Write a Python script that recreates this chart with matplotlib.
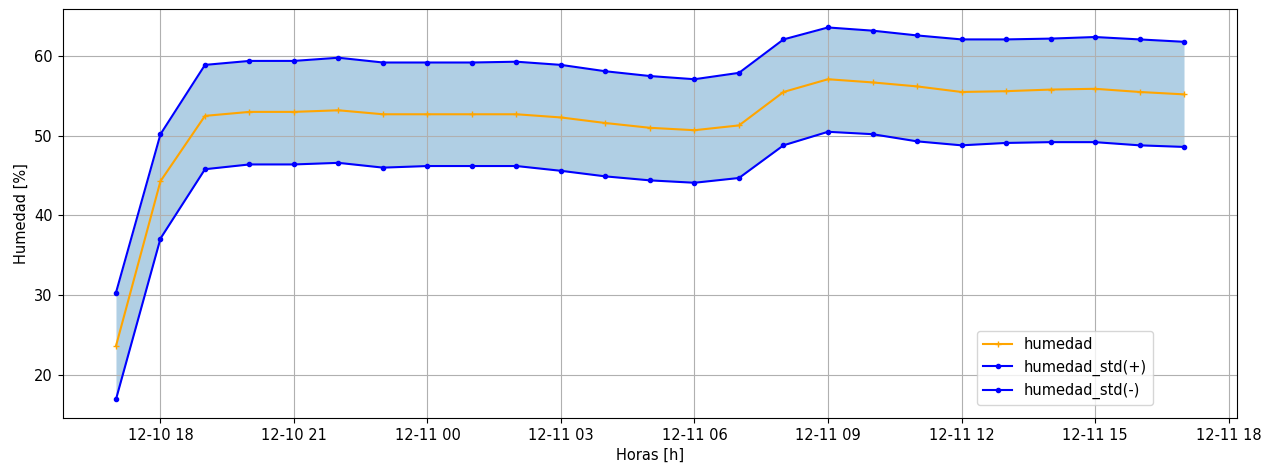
import numpy as np
import pandas as pd
import matplotlib
matplotlib.use("Agg")
import matplotlib.pyplot as plt
import matplotlib.dates as mdates

# hourly readings, 12-10 17:00 to 12-11 17:00
horas = pd.date_range("2021-12-10 17:00", periods=25, freq="h")

humedad = [23.6, 44.3, 52.5, 53.0, 53.0, 53.2, 52.7, 52.7, 52.7, 52.7,
           52.3, 51.6, 51.0, 50.7, 51.3, 55.5, 57.1, 56.7, 56.2, 55.5,
           55.6, 55.8, 55.9, 55.5, 55.2]
humedad_std_mas = [30.3, 50.2, 58.9, 59.4, 59.4, 59.8, 59.2, 59.2, 59.2, 59.3,
                   58.9, 58.1, 57.5, 57.1, 57.9, 62.1, 63.6, 63.2, 62.6, 62.1,
                   62.1, 62.2, 62.4, 62.1, 61.8]
humedad_std_menos = [16.9, 37.1, 45.8, 46.4, 46.4, 46.6, 46.0, 46.2, 46.2, 46.2,
                     45.6, 44.9, 44.4, 44.1, 44.7, 48.8, 50.5, 50.2, 49.3, 48.8,
                     49.1, 49.2, 49.2, 48.8, 48.6]

plt.rcParams["font.size"] = 10.5

fig, ax = plt.subplots(figsize=(12.77, 4.67), dpi=100)
fig.subplots_adjust(left=0.049, right=0.969, top=0.981, bottom=0.105)

ax.plot(horas, humedad, color="orange", marker="+", markersize=4, label="humedad")
ax.plot(horas, humedad_std_mas, color="blue", marker=".", markersize=6, label="humedad_std(+)")
ax.plot(horas, humedad_std_menos, color="blue", marker=".", markersize=6, label="humedad_std(-)")
ax.fill_between(horas, humedad_std_menos, humedad_std_mas, color="tab:blue", alpha=0.35, linewidth=0)

ax.xaxis.set_major_locator(mdates.HourLocator(byhour=range(0, 24, 3)))
ax.xaxis.set_major_formatter(mdates.DateFormatter("%m-%d %H"))
ax.set_xlabel("Horas [h]")
ax.set_ylabel("Humedad [%]")
ax.grid(True)
ax.legend(loc="lower right", bbox_to_anchor=(0.928, 0.032), borderaxespad=0)

plt.savefig("out.png")
